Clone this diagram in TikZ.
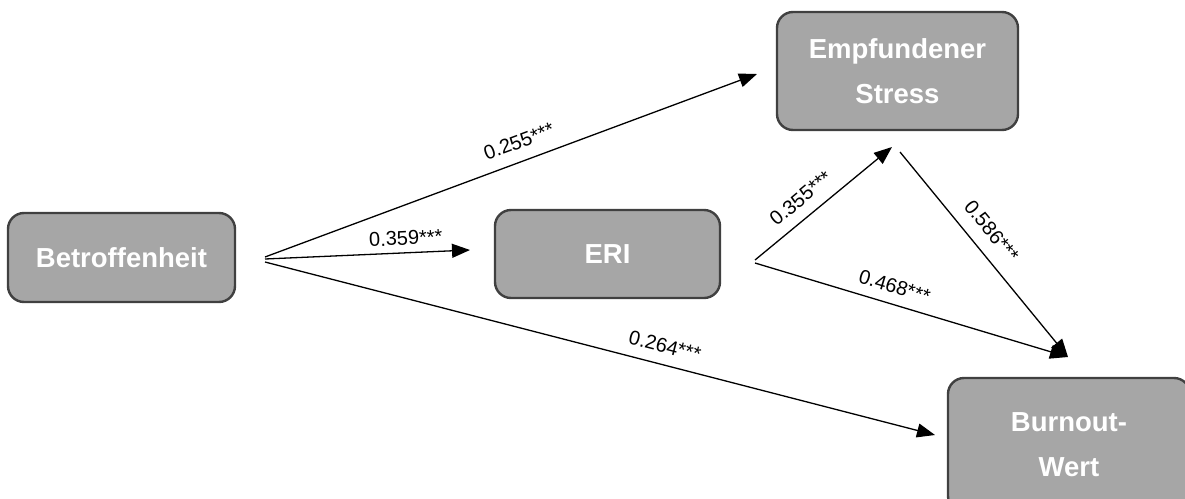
\documentclass[tikz,border=0pt]{standalone}
\usepackage{fontspec}
\setmainfont{Liberation Sans}
\usetikzlibrary{arrows.meta}
\begin{document}
\begin{tikzpicture}[x=1pt,y=-1pt,
  box/.style={draw=black!75, line width=2.4pt, fill=black!35, rounded corners=16pt,
    text=white, align=center, inner sep=0pt,
    font=\fontsize{27.5}{45}\selectfont\bfseries},
  path/.style={line width=1.3pt, -{Triangle[length=18pt,width=14pt]}},
  coef/.style={sloped, above, inner sep=0pt, font=\fontsize{20}{24}\selectfont}
]
\useasboundingbox (0,0) rectangle (1185,498);
\clip (0,0) rectangle (1185,498);

% constructs
\node[box, minimum width=227pt, minimum height=89pt] (bet) at (121.5,257.5) {Betroffenheit};
\node[box, minimum width=241pt, minimum height=118pt] (stress) at (897.5,71) {Empfundener\\Stress};
\node[box, minimum width=225pt, minimum height=88pt] (eri) at (607.5,254) {ERI};
\node[box, minimum width=242pt, minimum height=134pt] (burn) at (1069,445) {Burnout-\\Wert};

% start and end points of the paths
\coordinate (s1) at (265,257);
\coordinate (s2) at (265,259);
\coordinate (s3) at (265,262);
\coordinate (r1) at (755,260);
\coordinate (r2) at (755,263);
\coordinate (t1) at (900,152);
\coordinate (toStress1) at (757,74);
\coordinate (toEri) at (470,250);
\coordinate (toBurn1) at (935,435);
\coordinate (toStress2) at (892,147);
\coordinate (toBurn2) at (1068,357);

% path coefficients
\draw[path] (s1) -- node[coef, pos=0.53, above=12pt] {0.255***} (toStress1);
\draw[path] (s2) -- node[coef, pos=0.69, above=7pt] {0.359***} (toEri);
\draw[path] (s3) -- node[coef, pos=0.59, above=11pt] {0.264***} (toBurn1);
\draw[path] (r1) -- node[coef, pos=0.42, above=11pt] {0.355***} (toStress2);
\draw[path] (r2) -- node[coef, pos=0.43, above=10pt] {0.468***} (toBurn2);
\draw[path] (t1) -- node[coef, pos=0.45, above=13pt] {0.586***} (toBurn2);
\end{tikzpicture}
\end{document}
